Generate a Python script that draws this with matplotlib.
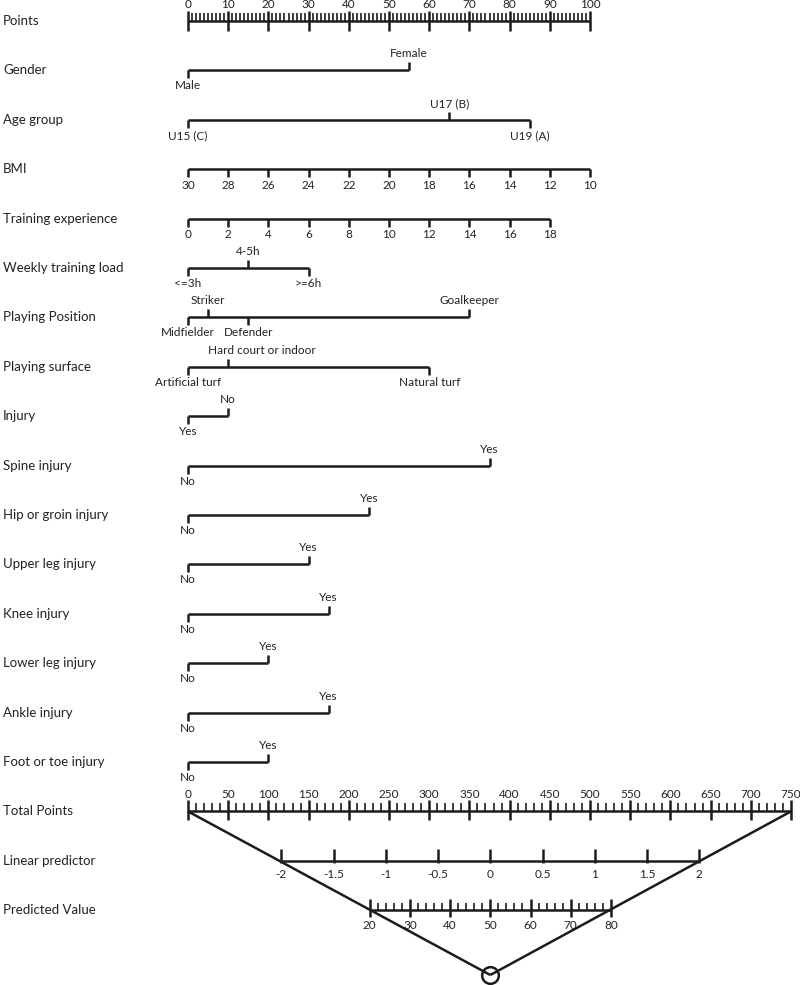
import matplotlib
matplotlib.use("Agg")
import matplotlib.pyplot as plt

plt.rcParams['font.family'] = ['Lato', 'DejaVu Sans']

# ---------------- data ----------------
row_labels = ["Points", "Gender", "Age group", "BMI", "Training experience",
              "Weekly training load", "Playing Position", "Playing surface",
              "Injury", "Spine injury", "Hip or groin injury", "Upper leg injury",
              "Knee injury", "Lower leg injury", "Ankle injury",
              "Foot or toe injury", "Total Points", "Linear predictor",
              "Predicted Value"]

points_major = list(range(0, 101, 10))
points_minor = list(range(0, 101, 1))

gender_levels = ["Male", "Female"]
gender_points = [0, 55]
age_levels = ["U15 (C)", "U17 (B)", "U19 (A)"]
age_points = [0, 65, 85]
bmi_values = [30, 28, 26, 24, 22, 20, 18, 16, 14, 12, 10]
bmi_points = [0, 10, 20, 30, 40, 50, 60, 70, 80, 90, 100]
train_values = [0, 2, 4, 6, 8, 10, 12, 14, 16, 18]
train_points = [0, 10, 20, 30, 40, 50, 60, 70, 80, 90]
load_levels = ["<=3h", "4-5h", ">=6h"]
load_points = [0, 15, 30]
position_levels = ["Midfielder", "Striker", "Defender", "Goalkeeper"]
position_points = [0, 5, 15, 70]
surface_levels = ["Artificial turf", "Hard court or indoor", "Natural turf"]
surface_points = [0, 10, 60]
injury_levels = ["Yes", "No"]
injury_points = [0, 10]
spine_levels = ["No", "Yes"]
spine_points = [0, 75]
hip_levels = ["No", "Yes"]
hip_points = [0, 45]
upperleg_levels = ["No", "Yes"]
upperleg_points = [0, 30]
knee_levels = ["No", "Yes"]
knee_points = [0, 35]
lowerleg_levels = ["No", "Yes"]
lowerleg_points = [0, 20]
ankle_levels = ["No", "Yes"]
ankle_points = [0, 35]
foot_levels = ["No", "Yes"]
foot_points = [0, 20]

total_major = list(range(0, 751, 50))
total_minor = list(range(0, 751, 10))
total_per_points_scale = 5.0          # total points per 1 unit of the Points scale

lp_ticks = [-2, -1.5, -1, -0.5, 0, 0.5, 1, 1.5, 2]
lp_labels = ["-2", "-1.5", "-1", "-0.5", "0", "0.5", "1", "1.5", "2"]
lp_zero_total = 376                   # total points where linear predictor = 0
total_per_lp = 130                    # total points per unit of linear predictor

pv_major = [20, 30, 40, 50, 60, 70, 80]
pv_minor = list(range(20, 81, 2))
pv_center = 50
pv_per_lp = 26

# ---------------- layout ----------------
W, H, DPI = 800, 985, 100
X0, PX = 188, 4.02        # pixel of Points=0, pixels per point
Y0, ROW = 21, 49.4        # pixel of first row, pixels per row
LC = "#1c1c1c"
LW = 1.8
FS_ROW = 9.5
FS_TICK = 8.5
LABEL_NUDGE_PX = {"Hard court or indoor": 34}

fig = plt.figure(figsize=(W / DPI, H / DPI), dpi=DPI)
ax = fig.add_axes([0, 0, 1, 1])
ax.set_xlim(-X0 / PX, (W - X0) / PX)
ax.set_ylim((H - Y0) / ROW, -Y0 / ROW)
ax.axis("off")


def r(px):
    return px / ROW


def pt(px):
    return px * 72.0 / DPI


def hline(row, x0, x1):
    ax.plot([x0, x1], [row, row], color=LC, lw=LW, solid_capstyle="butt")


def tick(row, x, up, down, lw=LW):
    ax.plot([x, x], [row - r(up), row + r(down)], color=LC, lw=lw,
            solid_capstyle="butt")


def label(row, x, s, off_px, va):
    dx = LABEL_NUDGE_PX.get(s, 0)
    ax.annotate(s, (x, row), xytext=(pt(dx), pt(off_px)),
                textcoords="offset points",
                ha="center", va=va, fontsize=FS_TICK, color="#222222")


# row titles
for i, name in enumerate(row_labels):
    ax.text(3 / W, 1 - (Y0 + i * ROW) / H, name, transform=ax.transAxes,
            ha="left", va="center", fontsize=FS_ROW, color="#222222")

# Points scale
row = 0
hline(row, points_major[0], points_major[-1])
for v in points_minor:
    if v not in points_major:
        tick(row, v, 7.5, 0, lw=1.2)
for v in points_major:
    tick(row, v, 10, 10)
    label(row, v, str(v), 12.5, "baseline")


def categorical(row, levels, pts):
    hline(row, min(pts), max(pts))
    order = sorted(range(len(pts)), key=lambda k: pts[k])
    for j, k in enumerate(order):
        if j % 2 == 0:
            tick(row, pts[k], 0, 8)
            label(row, pts[k], levels[k], -10, "top")
        else:
            tick(row, pts[k], 8, 0)
            label(row, pts[k], levels[k], 13, "baseline")


def numeric(row, values, pts):
    hline(row, min(pts), max(pts))
    for v, p in zip(values, pts):
        tick(row, p, 0, 8)
        label(row, p, str(v), -10.5, "top")


categorical(1, gender_levels, gender_points)
categorical(2, age_levels, age_points)
numeric(3, bmi_values, bmi_points)
numeric(4, train_values, train_points)
categorical(5, load_levels, load_points)
categorical(6, position_levels, position_points)
categorical(7, surface_levels, surface_points)
categorical(8, injury_levels, injury_points)
categorical(9, spine_levels, spine_points)
categorical(10, hip_levels, hip_points)
categorical(11, upperleg_levels, upperleg_points)
categorical(12, knee_levels, knee_points)
categorical(13, lowerleg_levels, lowerleg_points)
categorical(14, ankle_levels, ankle_points)
categorical(15, foot_levels, foot_points)


def tp_x(tp):
    return tp / total_per_points_scale


# Total points
row = 16
hline(row, tp_x(total_major[0]), tp_x(total_major[-1]))
for v in total_minor:
    if v not in total_major:
        tick(row, tp_x(v), 8, 0, lw=1.2)
for v in total_major:
    tick(row, tp_x(v), 11, 9)
    label(row, tp_x(v), str(v), 13.5, "baseline")


def lp_x(lp):
    return tp_x(lp_zero_total + total_per_lp * lp)


# Linear predictor
row = 17
hline(row, lp_x(lp_ticks[0]), lp_x(lp_ticks[-1]))
for v, s in zip(lp_ticks, lp_labels):
    tick(row, lp_x(v), 12, 2)
    label(row, lp_x(v), s, -8, "top")


def pv_x(pv):
    return lp_x((pv - pv_center) / pv_per_lp)


# Predicted value
row = 18
hline(row, pv_x(pv_major[0]), pv_x(pv_major[-1]))
for v in pv_minor:
    if v not in pv_major:
        tick(row, pv_x(v), 7.5, 0, lw=1.2)
for v in pv_major:
    tick(row, pv_x(v), 11, 7)
    label(row, pv_x(v), str(v), -10, "top")

# V guide lines converging on the circle
circle_row = 16 + r(975 - (Y0 + 16 * ROW))
cx = pv_x(pv_center)
for tp in (total_major[0], total_major[-1]):
    ax.plot([tp_x(tp), cx], [16, circle_row], color=LC, lw=LW,
            solid_capstyle="butt")
ax.plot([cx], [circle_row], marker="o", markersize=12, markerfacecolor="none",
        markeredgecolor=LC, markeredgewidth=1.8)

fig.savefig("out.png", dpi=DPI, facecolor="white")
